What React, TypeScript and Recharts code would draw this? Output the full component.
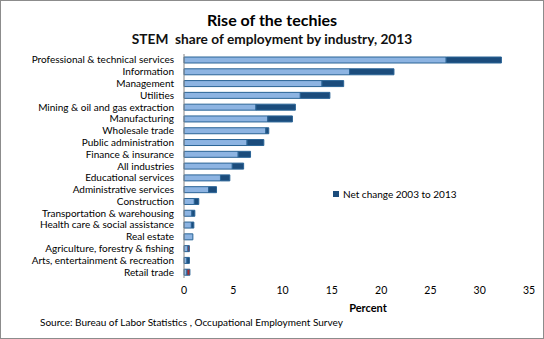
import React from "react";
import { BarChart, Bar, XAxis, YAxis } from "recharts";

const categories = [
  "Professional & technical services",
  "Information",
  "Management",
  "Utilities",
  "Mining & oil and gas extraction",
  "Manufacturing",
  "Wholesale trade",
  "Public administration",
  "Finance & insurance",
  "All industries",
  "Educational services",
  "Administrative services",
  "Construction",
  "Transportation & warehousing",
  "Health care & social assistance",
  "Real estate",
  "Agriculture, forestry & fishing",
  "Arts, entertainment & recreation",
  "Retail trade",
];

const share2013 = [32.2, 21.3, 16.2, 14.8, 11.3, 11.0, 8.6, 8.1, 6.75, 6.05, 4.65, 3.3, 1.5, 1.1, 1.0, 0.9, 0.4, 0.55, 0.3];
const netChange = [5.6, 4.5, 2.2, 3.0, 4.0, 2.5, 0.3, 1.7, 1.25, 1.15, 0.95, 0.8, 0.45, 0.3, 0.25, 0, -0.15, 0.25, -0.3];

const xTicks = [0, 5, 10, 15, 20, 25, 30, 35];

const data = categories.map((name, i) => ({
  name,
  base: netChange[i] >= 0 ? share2013[i] - netChange[i] : share2013[i],
  up: Math.max(netChange[i], 0),
  down: Math.max(-netChange[i], 0),
}));

const FONT = "Lato, 'Open Sans', sans-serif";
const LIGHT = "#8DB4E2";
const DARK = "#1B4C7C";
const EDGE = "#2A6496";
const RED = "#B02828";

const YTick = (props: any) => {
  const { x, y, payload } = props;
  return (
    <text x={x - 2} y={y} dy={3.5} textAnchor="end" fontSize={10} fontFamily={FONT} fill="#000">
      {payload.value}
    </text>
  );
};

const XTick = (props: any) => {
  const { x, y, payload } = props;
  return (
    <text x={x} y={y} dy={8} textAnchor="middle" fontSize={10.5} fontFamily={FONT} fill="#000">
      {payload.value}
    </text>
  );
};

export default function App() {
  return (
    <div
      style={{
        position: "absolute",
        left: 0,
        top: 0,
        width: 544,
        height: 339,
        background: "#fff",
        fontFamily: FONT,
        boxSizing: "border-box",
        border: "1px solid #8c8c8c",
      }}
    >
      <div style={{ position: "absolute", left: 0, width: 542, top: 9, textAlign: "center", fontSize: 16, fontWeight: 700, color: "#000" }}>
        Rise of the techies
      </div>
      <div style={{ position: "absolute", left: 0, width: 542, top: 29, textAlign: "center", fontSize: 13.7, fontWeight: 700, color: "#111" }}>
        STEM&nbsp; share of employment by industry, 2013
      </div>
      <div style={{ position: "absolute", left: -1, top: -1 }}>
        <BarChart
          width={544}
          height={339}
          layout="vertical"
          data={data}
          margin={{ top: 54, right: 15, bottom: 0, left: 0 }}
          barSize={6}
        >
          <XAxis
            type="number"
            domain={[0, 35]}
            ticks={xTicks}
            axisLine={false}
            tickLine={false}
            height={61}
            tick={<XTick />}
          />
          <YAxis
            type="category"
            dataKey="name"
            width={184}
            interval={0}
            axisLine={{ stroke: "#868686" }}
            tickLine={false}
            tick={<YTick />}
          />
          <Bar dataKey="base" stackId="a" fill={LIGHT} stroke={EDGE} strokeWidth={1} isAnimationActive={false} />
          <Bar dataKey="up" stackId="a" fill={DARK} stroke={EDGE} strokeWidth={1} isAnimationActive={false} />
          <Bar dataKey="down" stackId="a" fill={RED} stroke={EDGE} strokeWidth={1} isAnimationActive={false} />
        </BarChart>
      </div>
      <div style={{ position: "absolute", left: 332, top: 187, display: "flex", alignItems: "center", fontSize: 10, color: "#000", whiteSpace: "nowrap" }}>
        <span style={{ display: "inline-block", width: 6, height: 6, background: DARK, marginRight: 4 }} />
        Net change 2003 to 2013
      </div>
      <div style={{ position: "absolute", left: 0, width: 734, top: 300, textAlign: "center", fontSize: 11, fontWeight: 700, color: "#000" }}>
        Percent
      </div>
      <div style={{ position: "absolute", left: 39, top: 315, fontSize: 10, color: "#000" }}>
        Source: Bureau of Labor Statistics , Occupational Employment Survey
      </div>
    </div>
  );
}
